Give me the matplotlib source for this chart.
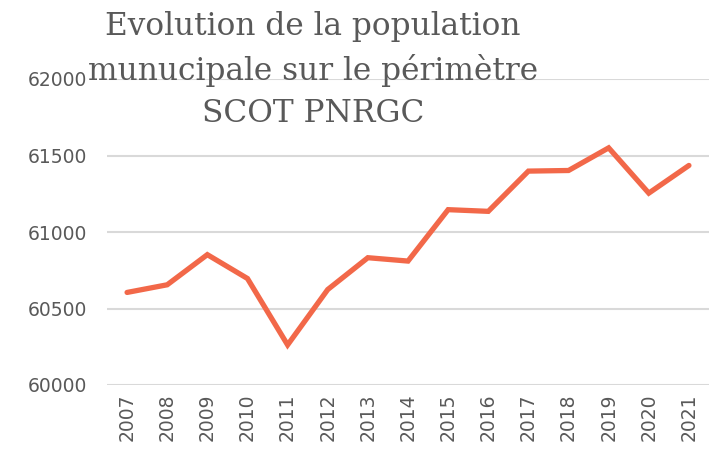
import matplotlib
matplotlib.use("Agg")
import matplotlib.pyplot as plt

years = ["2007", "2008", "2009", "2010", "2011", "2012", "2013", "2014",
         "2015", "2016", "2017", "2018", "2019", "2020", "2021"]
population = [60605, 60655, 60852, 60696, 60262, 60624, 60832, 60810,
              61146, 61135, 61398, 61402, 61550, 61254, 61435]
yticks = [60000, 60500, 61000, 61500, 62000]
title = "Evolution de la population\nmunucipale sur le périmètre\nSCOT PNRGC"

fig = plt.figure(figsize=(7.10, 4.51), dpi=100)
ax = fig.add_axes([107/710, 1-385/451, 602/710, (385-79)/451])

x = list(range(len(years)))
ax.plot(x, population, color="#F26849", linewidth=3.8, solid_capstyle="round",
        solid_joinstyle="miter", zorder=3)

ax.set_xlim(-0.5, len(years) - 0.5)
ax.set_ylim(60000, 62000)
ax.set_yticks(yticks)
ax.set_yticklabels([str(v) for v in yticks])
ax.set_xticks(x)
ax.set_xticklabels(years, rotation=90)
ax.yaxis.grid(True, color="#D9D9D9", linewidth=1.5)
ax.set_axisbelow(True)
for s in ax.spines.values():
    s.set_visible(False)
ax.tick_params(axis="both", length=0, colors="#595959", labelsize=13.5)
ax.tick_params(axis="y", pad=14)
ax.tick_params(axis="x", pad=6)
for lab in ax.get_xticklabels() + ax.get_yticklabels():
    lab.set_color("#595959")

fig.text(313/710, 1-70/451, title, ha="center", va="center", fontsize=22.5,
         family="DejaVu Serif", color="#595959", linespacing=1.45)

fig.savefig("out.png", dpi=100)
